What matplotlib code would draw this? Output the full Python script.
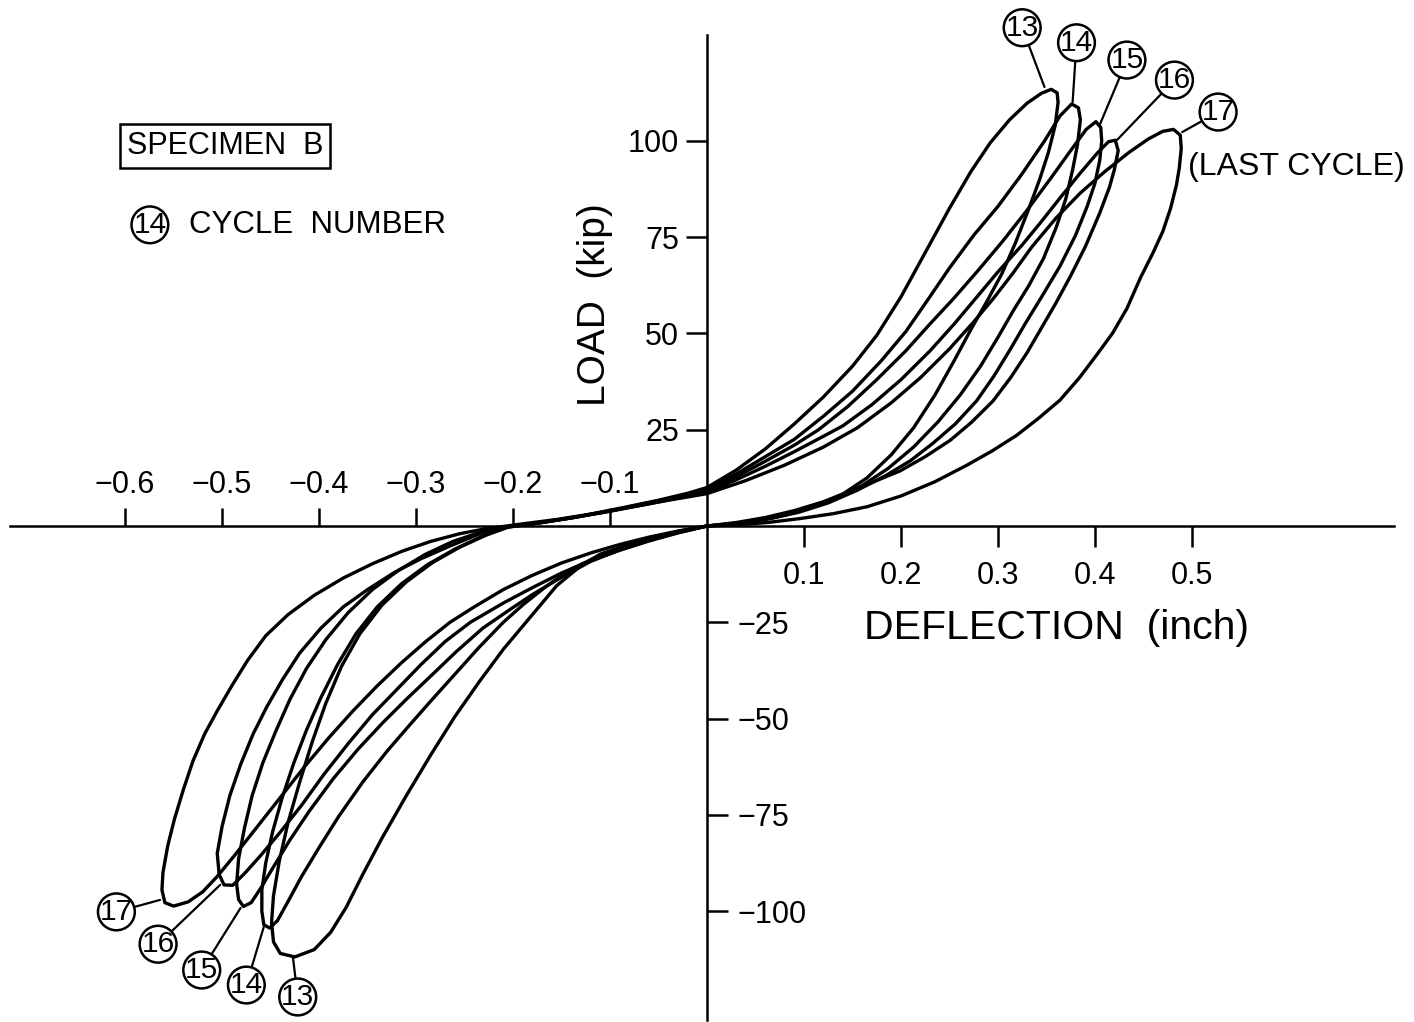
import matplotlib
matplotlib.use("Agg")
import matplotlib.pyplot as plt

plt.rcParams['font.family'] = ['Liberation Sans', 'DejaVu Sans']

# hysteresis loops, deflection (inch) / load (kip)
loop13_x = [-0.205, -0.17, -0.13, -0.09, -0.05, -0.02, 0.0, 0.03, 0.06, 0.09, 0.12, 0.15, 0.175, 0.2, 0.225,
            0.25, 0.272, 0.292, 0.312, 0.33, 0.345, 0.355, 0.361, 0.362,
            0.359, 0.352, 0.343, 0.332, 0.318, 0.304, 0.289, 0.272, 0.255, 0.235, 0.213, 0.19, 0.165, 0.14,
            0.11, 0.08, 0.05, 0.025, 0.0,
            -0.03, -0.06, -0.09, -0.11, -0.13, -0.155, -0.18, -0.21, -0.235, -0.26, -0.285, -0.31, -0.335,
            -0.355, -0.372, -0.388, -0.405, -0.425, -0.44, -0.447, -0.449,
            -0.447, -0.441, -0.432, -0.42, -0.407, -0.393, -0.377, -0.358, -0.335, -0.31, -0.283, -0.255,
            -0.228, -0.205]
loop13_y = [-0.3, 0.9, 2.6, 4.6, 6.7, 8.5, 10.0, 14.5, 20.0, 26.5, 33.5, 41.5, 49.5, 59.5, 71.0,
            82.5, 92.0, 99.5, 105.5, 109.8, 112.4, 113.4, 112.5, 110.0,
            104.0, 97.0, 90.0, 82.5, 73.5, 65.5, 58.5, 51.0, 43.0, 34.0, 25.5, 18.5, 12.5, 8.3,
            5.0, 2.8, 1.3, 0.5, 0.0,
            -1.4, -3.3, -5.6, -7.3, -10.3, -15.5, -23.0, -32.0, -40.5, -49.5, -59.5, -70.0, -81.0,
            -90.5, -99.0, -105.5, -110.0, -111.9, -111.0, -108.0, -103.0,
            -96.0, -87.0, -77.0, -66.5, -56.0, -46.0, -36.5, -28.0, -20.5, -14.5, -9.5, -5.5,
            -2.4, -0.3]

loop14_x = [-0.21, -0.175, -0.135, -0.095, -0.055, -0.02, 0.0, 0.03, 0.06, 0.09, 0.12, 0.15, 0.18, 0.205,
            0.227, 0.25, 0.275, 0.3, 0.325, 0.348, 0.364, 0.376, 0.383, 0.385,
            0.382, 0.377, 0.37, 0.36, 0.347, 0.332, 0.316, 0.3, 0.282, 0.261, 0.238, 0.213, 0.187, 0.16,
            0.13, 0.1, 0.07, 0.04, 0.015, 0.0,
            -0.03, -0.06, -0.09, -0.115, -0.14, -0.165, -0.19, -0.21, -0.235, -0.26, -0.285, -0.306,
            -0.33, -0.355, -0.38, -0.4, -0.418, -0.432, -0.443, -0.451, -0.457, -0.459,
            -0.459, -0.455, -0.448, -0.438, -0.426, -0.413, -0.398, -0.381, -0.362, -0.34, -0.315,
            -0.288, -0.26, -0.233, -0.21]
loop14_y = [-0.4, 0.7, 2.3, 4.2, 6.3, 8.2, 9.6, 13.5, 18.0, 22.5, 28.5, 35.0, 43.0, 50.5,
            58.5, 67.0, 75.5, 83.0, 91.5, 100.0, 106.5, 109.6, 108.6, 105.5,
            99.0, 92.5, 85.0, 77.5, 69.5, 62.5, 56.0, 49.0, 41.5, 34.0, 27.0, 20.5, 15.0, 10.5,
            6.8, 4.2, 2.3, 1.0, 0.3, 0.0,
            -1.6, -3.6, -5.9, -8.2, -11.2, -15.5, -20.5, -25.0, -31.5, -38.5, -45.5, -51.5,
            -58.5, -66.5, -75.5, -83.5, -91.0, -97.5, -102.5, -104.4, -103.5, -100.0,
            -94.5, -87.5, -79.5, -70.5, -61.5, -53.0, -44.5, -36.0, -28.0, -21.0, -15.0,
            -10.0, -6.0, -2.8, -0.4]

loop15_x = [-0.215, -0.18, -0.14, -0.1, -0.06, -0.025, 0.0, 0.03, 0.06, 0.09, 0.115, 0.145, 0.175, 0.205,
            0.23, 0.254, 0.28, 0.305, 0.33, 0.355, 0.375, 0.391, 0.401, 0.406, 0.407,
            0.405, 0.4, 0.392, 0.38, 0.364, 0.345, 0.328, 0.313, 0.296, 0.278, 0.256, 0.233, 0.21, 0.185,
            0.155, 0.125, 0.095, 0.065, 0.035, 0.0,
            -0.03, -0.06, -0.09, -0.12, -0.15, -0.18, -0.205, -0.231, -0.258, -0.285, -0.31, -0.334,
            -0.36, -0.385, -0.41, -0.43, -0.447, -0.46, -0.47, -0.478, -0.483, -0.485,
            -0.483, -0.477, -0.469, -0.458, -0.445, -0.43, -0.413, -0.393, -0.37, -0.345, -0.318,
            -0.29, -0.262, -0.237, -0.215]
loop15_y = [-0.5, 0.6, 2.1, 3.9, 5.9, 7.8, 9.2, 12.8, 16.8, 21.0, 25.0, 31.0, 38.0, 45.5,
            52.5, 59.0, 66.5, 74.0, 82.0, 90.5, 97.5, 103.0, 105.0, 103.5, 100.0,
            95.0, 89.0, 83.0, 75.5, 67.5, 59.5, 52.5, 46.0, 39.0, 32.5, 26.5, 21.5, 17.0, 13.2,
            9.3, 6.0, 3.6, 1.9, 0.8, 0.0,
            -1.7, -3.8, -6.2, -9.2, -13.3, -17.8, -22.0, -26.5, -32.5, -39.0, -45.0, -51.0,
            -58.0, -65.5, -74.0, -81.5, -88.5, -94.0, -97.8, -98.8, -97.0, -93.0,
            -86.5, -78.5, -70.0, -61.5, -53.5, -45.0, -37.0, -29.5, -22.5, -16.5, -11.5,
            -7.3, -4.0, -1.9, -0.5]

loop16_x = [-0.22, -0.185, -0.145, -0.105, -0.065, -0.03, 0.0, 0.03, 0.06, 0.09, 0.12, 0.14, 0.17, 0.2,
            0.23, 0.255, 0.275, 0.3, 0.325, 0.343, 0.365, 0.385, 0.403, 0.414, 0.421, 0.424,
            0.42, 0.415, 0.405, 0.39, 0.375, 0.36, 0.345, 0.33, 0.313, 0.295, 0.273, 0.251, 0.225, 0.199,
            0.172, 0.147, 0.12, 0.09, 0.06, 0.03, 0.0,
            -0.03, -0.06, -0.09, -0.12, -0.15, -0.18, -0.21, -0.244, -0.27, -0.295, -0.32, -0.345,
            -0.37, -0.395, -0.418, -0.44, -0.46, -0.476, -0.489, -0.498, -0.503,
            -0.505, -0.5, -0.492, -0.481, -0.468, -0.454, -0.438, -0.42, -0.398, -0.375, -0.35,
            -0.322, -0.295, -0.266, -0.24, -0.22]
loop16_y = [-0.6, 0.5, 1.9, 3.6, 5.5, 7.3, 8.8, 12.0, 15.5, 19.3, 23.3, 26.0, 31.5, 38.0,
            45.5, 52.5, 58.5, 66.0, 73.0, 78.5, 85.5, 91.7, 97.0, 99.8, 100.2, 97.5,
            92.5, 88.0, 81.3, 72.5, 65.0, 58.0, 51.5, 45.0, 38.5, 32.5, 27.0, 22.3, 18.0, 14.3,
            11.5, 9.0, 6.3, 4.0, 2.2, 0.9, 0.0,
            -1.8, -3.9, -6.3, -9.0, -12.2, -16.0, -20.0, -25.0, -30.0, -36.0, -42.5, -49.0,
            -56.5, -64.5, -72.5, -79.5, -85.5, -90.0, -93.3, -93.2, -90.5,
            -85.0, -78.0, -70.0, -62.0, -54.0, -47.0, -40.0, -33.0, -26.5, -21.0, -16.5,
            -12.0, -8.5, -5.3, -2.6, -0.6]

loop17_x = [-0.23, -0.195, -0.155, -0.115, -0.075, -0.035, 0.0, 0.04, 0.08, 0.12, 0.155, 0.19, 0.22,
            0.25, 0.275, 0.295, 0.315, 0.335, 0.36, 0.385, 0.41, 0.435, 0.455, 0.47, 0.481, 0.488, 0.489,
            0.487, 0.484, 0.478, 0.47, 0.46, 0.447, 0.433, 0.418, 0.402, 0.384, 0.364, 0.342, 0.319,
            0.294, 0.268, 0.235, 0.2, 0.165, 0.13, 0.095, 0.062, 0.03, 0.0,
            -0.03, -0.06, -0.09, -0.12, -0.15, -0.18, -0.21, -0.24, -0.265, -0.29, -0.315, -0.34,
            -0.365, -0.39, -0.415, -0.44, -0.465, -0.487, -0.505, -0.52, -0.535, -0.55, -0.559, -0.562,
            -0.561, -0.556, -0.549, -0.54, -0.53, -0.518, -0.505, -0.49, -0.474, -0.455, -0.432,
            -0.405, -0.375, -0.345, -0.315, -0.285, -0.255, -0.23]
loop17_y = [-0.8, 0.4, 1.7, 3.3, 5.1, 6.9, 8.4, 11.8, 15.8, 20.5, 25.5, 32.0, 38.5,
            46.0, 53.0, 59.0, 65.5, 72.5, 80.0, 86.5, 92.0, 97.0, 100.5, 102.5, 103.0, 101.5, 98.0,
            93.0, 88.5, 82.5, 76.5, 71.0, 64.5, 56.5, 50.0, 44.5, 38.5, 32.7, 28.0, 23.5,
            19.5, 15.8, 11.5, 7.8, 5.0, 3.2, 1.9, 0.9, 0.3, 0.0,
            -1.3, -2.9, -4.8, -7.0, -9.6, -12.8, -16.5, -21.0, -25.0, -30.0, -35.5, -41.5,
            -48.0, -55.0, -62.5, -70.5, -78.5, -85.5, -91.0, -95.0, -97.6, -98.7, -97.8, -94.5,
            -90.0, -83.0, -76.0, -68.5, -61.0, -54.0, -48.0, -41.5, -35.0, -28.5, -23.0,
            -18.0, -13.5, -9.8, -6.6, -4.0, -2.0, -0.8]

cycles = ['13', '14', '15', '16', '17']
loops_x = [loop13_x, loop14_x, loop15_x, loop16_x, loop17_x]
loops_y = [loop13_y, loop14_y, loop15_y, loop16_y, loop17_y]

# label circles: where the leader touches the loop, and where the circle sits
tip_pos = [(0.348, 114.0), (0.377, 110.1), (0.405, 104.2), (0.423, 100.3), (0.490, 102.3)]
circle_pos = [(0.325, 129.4), (0.381, 125.5), (0.433, 121.0), (0.482, 115.8), (0.527, 107.5)]
tip_neg = [(-0.427, -111.9), (-0.457, -104.1), (-0.481, -99.2), (-0.502, -93.2), (-0.564, -97.1)]
circle_neg = [(-0.422, -122.3), (-0.475, -119.2), (-0.521, -115.3), (-0.566, -108.6), (-0.609, -100.2)]

x_pos_ticks = [0.1, 0.2, 0.3, 0.4, 0.5]
x_pos_labels = ['0.1', '0.2', '0.3', '0.4', '0.5']
x_neg_ticks = [-0.6, -0.5, -0.4, -0.3, -0.2, -0.1]
x_neg_labels = ['\u22120.6', '\u22120.5', '\u22120.4', '\u22120.3', '\u22120.2', '\u22120.1']
y_pos_ticks = [25, 50, 75, 100]
y_pos_labels = ['25', '50', '75', '100']
y_neg_ticks = [-25, -50, -75, -100]
y_neg_labels = ['\u221225', '\u221250', '\u221275', '\u2212100']

fig = plt.figure(figsize=(14.14, 10.22), dpi=100)
ax = fig.add_axes([0, 0, 1, 1])
xlim = (-0.729, 0.729)
ylim = (-128.8, 136.6)
ax.set_xlim(xlim)
ax.set_ylim(ylim)

for lx, ly in zip(loops_x, loops_y):
    ax.plot(lx, ly, color='black', lw=2.4, solid_joinstyle='round', solid_capstyle='round')

# axes through the origin
ax.spines['top'].set_visible(False)
ax.spines['right'].set_visible(False)
ax.spines['left'].set_position(('data', 0))
ax.spines['bottom'].set_position(('data', 0))
ax.spines['bottom'].set_bounds(-0.719, 0.708)
ax.spines['left'].set_bounds(-128.3, 127.5)
for s in ('left', 'bottom'):
    ax.spines[s].set_linewidth(1.8)

ax.set_xticks(x_pos_ticks, labels=x_pos_labels)
ax.set_yticks(y_pos_ticks, labels=y_pos_labels)
ax.tick_params(axis='x', direction='out', length=15, width=1.8, labelsize=22, pad=10)
ax.tick_params(axis='y', direction='out', length=15, width=1.8, labelsize=22, pad=5)

frac0 = (0 - ylim[0]) / (ylim[1] - ylim[0])
secx = ax.secondary_xaxis(frac0)
secx.set_alignment('top')
secx.set_ticks(x_neg_ticks, labels=x_neg_labels)
secx.tick_params(direction='out', length=13, width=1.8, labelsize=22, pad=6)
for s in secx.spines.values():
    s.set_visible(False)

secy = ax.secondary_yaxis(0.5)
secy.set_alignment('right')
secy.set_ticks(y_neg_ticks, labels=y_neg_labels)
secy.tick_params(direction='out', length=15, width=1.8, labelsize=22, pad=7)
for s in secy.spines.values():
    s.set_visible(False)

circ_font = ['Liberation Sans Narrow', 'Liberation Sans', 'DejaVu Sans']
circ_box = dict(boxstyle='circle,pad=0.06', fc='white', ec='black', lw=1.8)
for lab, tip, cpos in zip(cycles, tip_pos, circle_pos):
    ax.annotate(lab, xy=tip, xytext=cpos, ha='center', va='center', fontsize=21.5, family=circ_font,
                bbox=circ_box, arrowprops=dict(arrowstyle='-', lw=1.6, color='black', shrinkA=0, shrinkB=0))
for lab, tip, cpos in zip(cycles, tip_neg, circle_neg):
    ax.annotate(lab, xy=tip, xytext=cpos, ha='center', va='center', fontsize=21.5, family=circ_font,
                bbox=circ_box, arrowprops=dict(arrowstyle='-', lw=1.6, color='black', shrinkA=0, shrinkB=0))

ax.text(0.917, 0.837, '(LAST CYCLE)', transform=ax.transAxes, ha='center', va='center', fontsize=23)
ax.text(0.159, 0.857, 'SPECIMEN  B', transform=ax.transAxes, ha='center', va='center', fontsize=22,
        bbox=dict(boxstyle='square,pad=0.22', fc='white', ec='black', lw=1.8))
ax.text(0.106, 0.780, '14', transform=ax.transAxes, ha='center', va='center', fontsize=21.5,
        family=circ_font, bbox=circ_box)
ax.text(0.134, 0.780, 'CYCLE  NUMBER', transform=ax.transAxes, ha='left', va='center', fontsize=22.5)
ax.text(0.421, 0.702, 'LOAD  (kip)', transform=ax.transAxes, ha='center', va='center', fontsize=28,
        rotation=90)
ax.text(0.7475, 0.3855, 'DEFLECTION  (inch)', transform=ax.transAxes, ha='center', va='center',
        fontsize=29.5)

fig.savefig('out.png', dpi=100)
